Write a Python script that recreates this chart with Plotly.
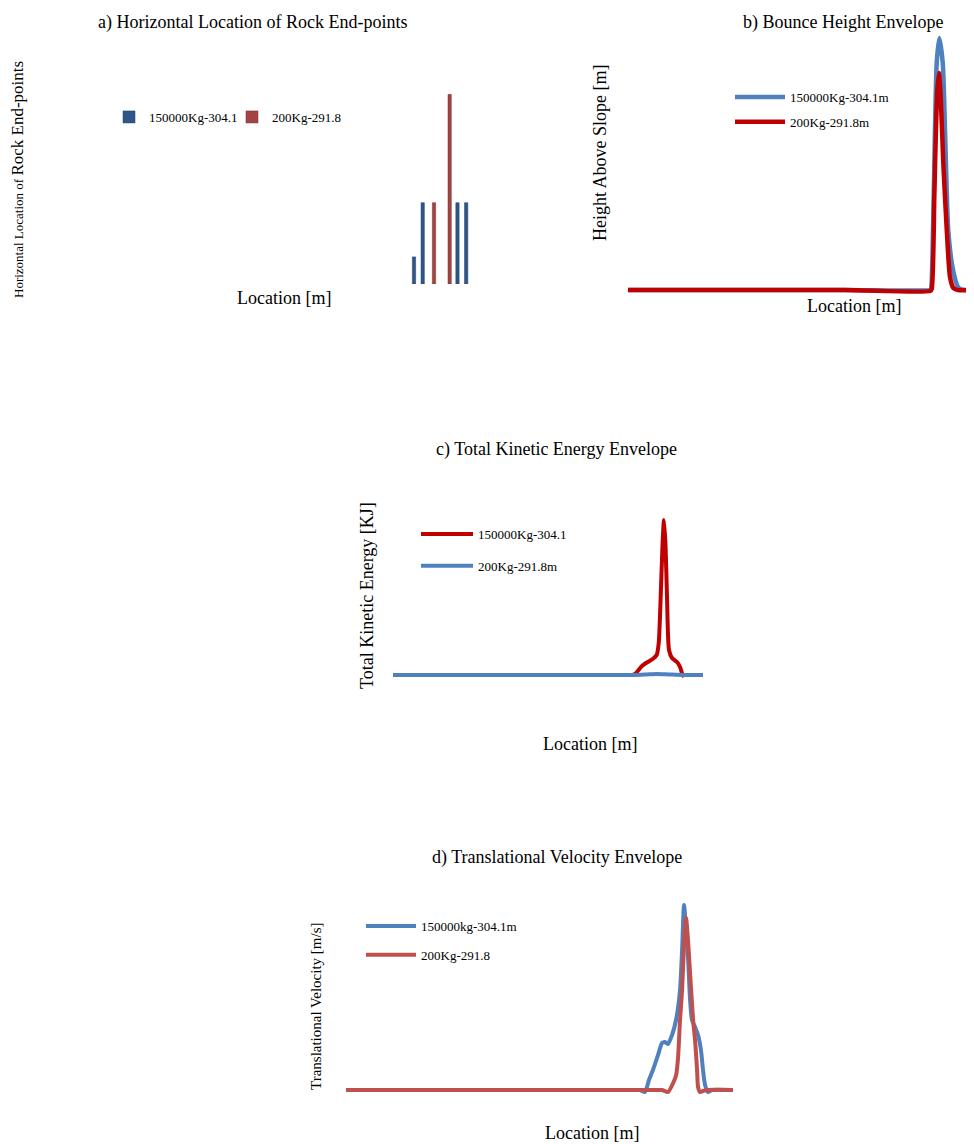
import plotly.graph_objects as go

FONT = "Liberation Serif"

# ---------------- data ----------------
# a) Horizontal location of rock end-points (counts per location bin)
a_blue_loc = [0.0, 1.0, 5.0, 6.0]
a_blue_cnt = [1, 3, 3, 3]
a_red_loc = [2.3, 4.1]
a_red_cnt = [3, 7]

# b) Bounce height envelope
b_blue_loc = [0, 200, 279.3, 280.2, 282.1, 283.9, 285.5, 287.9, 291.1, 293.2, 296.2, 300.6, 305.2, 308.6, 320]
b_blue_h = [0, 0, 0, 0.1, 6.0, 16.0, 22.7, 25.2, 22.7, 16.0, 6.0, 2.0, 0.3, 0.05, 0]
b_red_loc = [0, 200, 279.5, 280.9, 283.3, 284.8, 286.1, 287.6, 289.2, 291.6, 294.8, 297.8, 300.9, 305, 320]
b_red_h = [0, 0, -0.1, 0.1, 9.3, 16.0, 20.0, 21.7, 19.3, 12.7, 6.0, 1.3, 0.2, 0, 0]

# c) Total kinetic energy envelope
c_red_loc = [0, 200, 240, 246.0, 249.8, 257.0, 262.9, 268.1, 272.2, 274.3, 276.4, 278.2, 279.7,
             281.3, 282.8, 284.9, 288.0, 293.2, 296.3, 298.3, 300.4]
c_red_e = [0, 0, 0, 0, 100, 900, 1300, 1600, 2000, 3200, 8000, 13000, 15500,
           13000, 8000, 2500, 1700, 1300, 800, 200, -200]
c_blue_loc = [0, 200, 250, 262, 272, 285, 300, 320]
c_blue_e = [0, 0, 0, 50, 100, 50, 0, 0]

# d) Translational velocity envelope
d_blue_loc = [0, 200, 238, 243.1, 247.2, 250.5, 253.8, 258.0, 261.3, 263.8, 266.3, 269.6, 272.9, 276.2,
              277.9, 279.5, 281.2, 282.8, 284.5, 286.1, 288.6, 291.1, 293.5, 295.2, 296.9, 299.3, 302.6, 320]
d_blue_v = [0, 0, 0, 0, -0.4, 2.0, 4.0, 7.0, 9.4, 9.6, 9.2, 11.0, 14.0, 20.0,
            28.0, 37.0, 32.0, 26.6, 18.0, 14.0, 12.6, 11.0, 8.0, 4.0, 1.0, -0.4, 0, 0]
d_red_loc = [0, 200, 255, 261.3, 266.3, 270.5, 273.0, 274.6, 276.2, 277.9, 279.5, 281.2, 282.8,
             284.5, 287.0, 288.6, 290.3, 291.1, 292.7, 295.2, 298.5, 320]
d_red_v = [0, 0, 0, 0, -0.4, 1.4, 3.0, 6.6, 14.0, 20.0, 29.0, 34.4, 30.0,
           23.4, 14.0, 10.0, 4.0, 0.6, -0.4, -0.2, 0, 0]

BLUE = "#4F81BD"
DARKRED = "#C00000"
RED = "#C0504D"

fig = go.Figure()

# a
fig.add_trace(go.Bar(x=a_blue_loc, y=a_blue_cnt, width=0.38, name="150000Kg-304.1",
                     marker=dict(color="#2F5689", line=dict(color="#1F3F66", width=0.5)),
                     xaxis="x", yaxis="y", legend="legend"))
fig.add_trace(go.Bar(x=a_red_loc, y=a_red_cnt, width=0.38, name="200Kg-291.8",
                     marker=dict(color="#A24444", line=dict(color="#7F2A2A", width=0.5)),
                     xaxis="x", yaxis="y", legend="legend"))

# b
fig.add_trace(go.Scatter(x=b_blue_loc, y=b_blue_h, mode="lines", name="150000Kg-304.1m",
                         line=dict(color=BLUE, width=4.5, shape="spline", smoothing=0.6),
                         xaxis="x2", yaxis="y2", legend="legend2", legendgroup="b1"))
fig.add_trace(go.Scatter(x=b_red_loc, y=b_red_h, mode="lines", name="200Kg-291.8m",
                         line=dict(color=DARKRED, width=4.5, shape="spline", smoothing=0.6),
                         xaxis="x2", yaxis="y2", legend="legend2", legendgroup="b2"))

# c
fig.add_trace(go.Scatter(x=c_red_loc, y=c_red_e, mode="lines", name="150000Kg-304.1",
                         line=dict(color=DARKRED, width=4, shape="spline", smoothing=0.6),
                         xaxis="x3", yaxis="y3", legend="legend3", legendgroup="c1"))
fig.add_trace(go.Scatter(x=c_blue_loc, y=c_blue_e, mode="lines", name="200Kg-291.8m",
                         line=dict(color=BLUE, width=4, shape="spline", smoothing=0.6),
                         xaxis="x3", yaxis="y3", legend="legend3", legendgroup="c2"))

# d
fig.add_trace(go.Scatter(x=d_blue_loc, y=d_blue_v, mode="lines", name="150000kg-304.1m",
                         line=dict(color=BLUE, width=4, shape="spline", smoothing=0.6),
                         xaxis="x4", yaxis="y4", legend="legend4", legendgroup="d1"))
fig.add_trace(go.Scatter(x=d_red_loc, y=d_red_v, mode="lines", name="200Kg-291.8",
                         line=dict(color=RED, width=4, shape="spline", smoothing=0.6),
                         xaxis="x4", yaxis="y4", legend="legend4", legendgroup="d2"))

# page has an 8px body margin: figure sized to fit the window
OFF = 8
W, H = 974 - OFF, 1144 - OFF


def px(x):
    return (x - OFF) / W


def py(y):
    return 1 - (y - OFF) / H


ax_common = dict(showgrid=False, zeroline=False, showticklabels=False, showline=False, ticks="")

leg_common = dict(bgcolor="rgba(0,0,0,0)", font=dict(family=FONT, size=13, color="#000"),
                  xanchor="left", yanchor="top")

fig.update_layout(
    width=W, height=H,
    margin=dict(l=0, r=0, t=0, b=0),
    paper_bgcolor="white", plot_bgcolor="white",
    barmode="overlay",
    font=dict(family=FONT, color="#000"),
    xaxis=dict(domain=[px(400), px(480)], range=[-1.61, 7.59], anchor="y", **ax_common),
    yaxis=dict(domain=[py(284), py(80)], range=[0, 7.53], anchor="x", **ax_common),
    xaxis2=dict(domain=[px(622), 1.0], range=[-5.55, 320], anchor="y2", **ax_common),
    yaxis2=dict(domain=[py(296), py(30)], range=[-0.6, 26], anchor="x2", **ax_common),
    xaxis3=dict(domain=[px(388), px(708)], range=[-5.16, 325.16], anchor="y3", **ax_common),
    yaxis3=dict(domain=[py(682), py(505)], range=[-700, 17000], anchor="x3", **ax_common),
    xaxis4=dict(domain=[px(340), px(739)], range=[-4.96, 324.96], anchor="y4", **ax_common),
    yaxis4=dict(domain=[py(1097), py(895)], range=[-1.4, 39], anchor="x4", **ax_common),
    legend=dict(x=px(109), y=py(102), orientation="h", entrywidth=78, **leg_common),
    legend2=dict(x=px(730), y=py(82), tracegroupgap=5, itemwidth=50, **leg_common),
    legend3=dict(x=px(416), y=py(519), tracegroupgap=12, itemwidth=52, **leg_common),
    legend4=dict(x=px(361), y=py(911), tracegroupgap=9, itemwidth=50, **leg_common),
)

ann = []


def text(x, y, s, size=18, angle=0):
    ann.append(dict(x=px(x), y=py(y), xref="paper", yref="paper", text=s, showarrow=False,
                    xanchor="center", yanchor="middle", textangle=angle,
                    font=dict(family=FONT, size=size, color="#000")))


text(252, 22, "a) Horizontal Location of Rock End-points", 18)
text(843, 22, "b) Bounce Height Envelope", 18)
text(556, 449, "c) Total Kinetic Energy Envelope", 18)
text(557, 857, "d) Translational Velocity Envelope", 18)

text(284, 298, "Location [m]", 18)
text(854, 306, "Location [m]", 18)
text(590, 744, "Location [m]", 18)
text(592, 1133, "Location [m]", 18)

text(17, 180, "Horizontal Location of <span style='font-size:17px'>Rock End-points</span>", 13, -90)
text(600, 153, "Height Above Slope [m]", 18, -90)
text(367, 596, "Total Kinetic Energy [KJ]", 18, -90)
text(316, 1006, "Translational Velocity [m/s]", 15, -90)

fig.update_layout(annotations=ann)

fig.write_html("out.html")
